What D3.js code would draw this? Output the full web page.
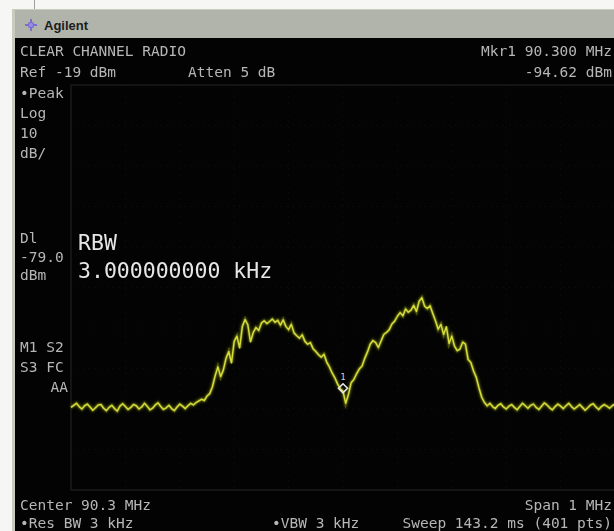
<!DOCTYPE html>
<html>
<head>
<meta charset="utf-8">
<script src="https://cdn.jsdelivr.net/npm/d3@7"></script>
<style>
  html, body { margin: 0; padding: 0; background: #ffffff; }
  svg { display: block; }
</style>
</head>
<body>
<svg id="screen" width="614" height="531"></svg>
<script>
// Sweep settings of the analyzer
const centerMHz = 90.3;
const spanMHz = 1.0;
const refLevel = -19;      // dBm, top of graticule
const dbPerDiv = 10;
const divisions = 10;
const displayLine = -79.0; // dBm
const markerFreq = 90.300; // MHz
const markerLevel = -94.62; // dBm

// Trace amplitudes (dBm), sampled every 5 kHz from 89.800 to 90.800 MHz
const traceLevels = [
  -98.6, -98.1, -97.6, -98.4, -99.0, -98.2, -97.8, -98.5, -99.3, -98.7,
  -98.0, -97.9, -98.8, -99.4, -98.6, -98.1, -98.9, -99.5, -98.3, -97.7,
  -98.4, -99.1, -98.6, -97.9, -98.2, -99.0, -98.5, -97.6, -98.3, -99.2,
  -98.8, -98.0, -97.5, -98.4, -99.1, -98.7, -98.1, -98.9, -99.4, -98.5,
  -97.8, -98.3, -98.9, -98.2, -97.6, -98.0, -97.4, -97.0, -96.6, -96.9,
  -95.8, -95.2, -93.5, -90.8, -88.6, -91.0, -89.4, -86.5, -84.8, -87.6,
  -82.3, -81.0, -83.9, -78.6, -76.9, -78.2, -82.4, -80.1, -78.9, -79.6,
  -77.8, -77.2, -77.9, -77.4, -76.8, -77.6, -77.1, -78.3, -77.0, -78.6,
  -79.4, -78.1, -80.2, -80.9, -81.5, -80.7, -82.3, -83.0, -82.6, -84.1,
  -84.8, -85.6, -86.2, -85.5, -87.4, -88.6, -90.1, -91.3, -92.8, -94.0,
  -94.62, -97.6, -95.4, -92.5, -91.7, -90.3, -89.1, -88.4, -86.5, -84.9,
  -83.0, -82.1, -82.6, -83.8, -82.2, -80.6, -80.1, -79.4, -78.0, -77.3,
  -76.1, -75.2, -76.0, -74.3, -75.1, -74.6, -73.4, -74.9, -72.4, -71.5,
  -73.6, -74.2, -73.5, -75.4, -77.2, -79.3, -78.1, -80.6, -78.7, -82.8,
  -81.0, -83.5, -84.6, -84.2, -82.5, -83.0, -86.8, -87.5, -89.6, -91.2,
  -93.8, -96.1, -97.4, -98.2, -97.6, -98.4, -98.9, -98.1, -97.7, -98.5,
  -99.0, -98.3, -97.9, -98.6, -99.2, -98.4, -97.6, -98.2, -98.8, -98.1,
  -97.8, -98.6, -99.1, -98.3, -97.5, -98.0, -98.7, -99.2, -98.4, -97.8,
  -98.3, -98.9, -98.2, -97.6, -98.4, -99.0, -98.5, -97.9, -98.6, -99.3,
  -98.7, -98.0, -97.7, -98.5, -99.1, -98.4, -97.9, -98.3, -98.8, -98.2,
  -97.8
];

// Annotation text shown on the instrument screen
const topLeftLines = ["CLEAR CHANNEL RADIO", "Ref -19 dBm"];
const attenText = "Atten 5 dB";
const markerLines = ["Mkr1  90.300 MHz", "-94.62 dBm"];
const scaleLines = ["\u2022Peak", "Log", "10", "dB/"];
const displayLineLabels = ["Dl", "-79.0", "dBm"];
const statusLines = ["M1 S2", "S3 FC"];
const couplingText = "AA";
const rbwLines = ["RBW", "3.000000000 kHz"];
const footerLeft = ["Center 90.3 MHz", "\u2022Res BW 3 kHz"];
const footerRight = ["Span 1 MHz", "Sweep 143.2 ms (401 pts)"];
const vbwText = "\u2022VBW 3 kHz";

const svg = d3.select("#screen");
const W = 614, H = 531;
const plot = { left: 71, right: 615, top: 85, bottom: 490 };

const startMHz = centerMHz - spanMHz / 2;
const stepMHz = spanMHz / (traceLevels.length - 1);
const trace = traceLevels.map((v, i) => ({ f: startMHz + i * stepMHz, v }));

const x = d3.scaleLinear().domain([startMHz, startMHz + spanMHz]).range([plot.left, plot.right]);
const y = d3.scaleLinear().domain([refLevel - dbPerDiv * divisions, refLevel]).range([plot.bottom, plot.top]);

// Filters: soft phosphor glow for the trace and slight softness for text
const defs = svg.append("defs");
const glow = defs.append("filter").attr("id", "glow").attr("x", "-5%").attr("y", "-5%").attr("width", "110%").attr("height", "110%");
glow.append("feGaussianBlur").attr("in", "SourceGraphic").attr("stdDeviation", 1.6).attr("result", "b");
const gm = glow.append("feMerge");
gm.append("feMergeNode").attr("in", "b");
gm.append("feMergeNode").attr("in", "SourceGraphic");
defs.append("filter").attr("id", "soft").append("feGaussianBlur").attr("stdDeviation", 0.45);

// Page margins and instrument bezel
svg.append("rect").attr("x", 0).attr("y", 0).attr("width", W).attr("height", H).attr("fill", "#f6f6f4");
svg.append("line").attr("x1", 34.5).attr("x2", 34.5).attr("y1", 0).attr("y2", 10).attr("stroke", "#a0a0a0");
svg.append("rect").attr("x", 12).attr("y", 9).attr("width", W - 12).attr("height", H - 9).attr("fill", "#c9cbbf");
svg.append("rect").attr("x", 15).attr("y", 10).attr("width", W - 15).attr("height", 28).attr("fill", "#b1b4ab");
svg.append("rect").attr("x", 15).attr("y", 38).attr("width", W - 15).attr("height", H - 38).attr("fill", "#030303");

// Header logo
const logo = svg.append("g").attr("transform", "translate(31,25)").attr("filter", "url(#soft)");
d3.range(8).forEach(k => {
  const a = k * Math.PI / 4;
  logo.append("line").attr("x1", 0).attr("y1", 0)
    .attr("x2", Math.cos(a) * (k % 2 ? 3.5 : 6)).attr("y2", Math.sin(a) * (k % 2 ? 3.5 : 6))
    .attr("stroke", "#6b5fd0").attr("stroke-width", 1.6);
});
logo.append("circle").attr("r", 2).attr("fill", "#9a8cf0");
svg.append("text").attr("x", 44).attr("y", 30).text("Agilent")
  .attr("font-family", "Liberation Sans, Arial, sans-serif").attr("font-weight", "bold")
  .attr("font-size", 13).attr("fill", "#1c1c1c");

// Graticule (very faint on this screen)
const grid = svg.append("g");
d3.range(1, divisions).forEach(k => {
  const gx = plot.left + (plot.right - plot.left) * k / divisions;
  const gy = plot.top + (plot.bottom - plot.top) * k / divisions;
  grid.append("line").attr("x1", gx).attr("x2", gx).attr("y1", plot.top).attr("y2", plot.bottom)
    .attr("stroke", "#101010").attr("stroke-dasharray", "1,5");
  grid.append("line").attr("x1", plot.left).attr("x2", plot.right).attr("y1", gy).attr("y2", gy)
    .attr("stroke", "#101010").attr("stroke-dasharray", "1,5");
});
grid.append("rect").attr("x", plot.left).attr("y", plot.top)
  .attr("width", plot.right - plot.left).attr("height", plot.bottom - plot.top)
  .attr("fill", "none").attr("stroke", "#202020").attr("stroke-width", 1.2);

// Display line
svg.append("line").attr("x1", plot.left).attr("x2", plot.right)
  .attr("y1", y(displayLine)).attr("y2", y(displayLine))
  .attr("stroke", "#3d8f3a").attr("stroke-width", 2).attr("filter", "url(#soft)");

// Trace
const line = d3.line().x(d => x(d.f)).y(d => y(d.v));
svg.append("path").datum(trace).attr("d", line)
  .attr("fill", "none").attr("stroke", "#8f9a12").attr("stroke-width", 3).attr("opacity", 0.55)
  .attr("filter", "url(#glow)");
svg.append("path").datum(trace).attr("d", line)
  .attr("fill", "none").attr("stroke", "#d6dc3c").attr("stroke-width", 1.5)
  .attr("stroke-linejoin", "round");

// Marker 1
const mx = x(markerFreq), my = y(markerLevel) - 3;
svg.append("path")
  .attr("d", `M${mx},${my - 4.5} L${mx + 4.5},${my} L${mx},${my + 4.5} L${mx - 4.5},${my} Z`)
  .attr("fill", "none").attr("stroke", "#e6e6e6").attr("stroke-width", 1.6);
svg.append("text").attr("x", mx).attr("y", my - 8).attr("text-anchor", "middle")
  .attr("font-family", "DejaVu Sans Mono, monospace").attr("font-size", 9)
  .attr("fill", "#cfcfcf").text("1");

// Screen annotations
const textLayer = svg.append("g").attr("filter", "url(#soft)")
  .attr("font-family", "DejaVu Sans Mono, monospace").attr("fill", "#b6b6b6");

function label(str, tx, ty, anchor = "start", size = 14.5, fill = null) {
  const t = textLayer.append("text").attr("x", tx).attr("y", ty)
    .attr("text-anchor", anchor).attr("font-size", size).text(str);
  if (fill) t.attr("fill", fill);
  return t;
}

topLeftLines.forEach((s, i) => label(s, 20, 56 + i * 21));
label(attenText, 188, 77);
markerLines.forEach((s, i) => label(s, 612, 56 + i * 21, "end"));
scaleLines.forEach((s, i) => label(s, 20, 98 + i * 20));
displayLineLabels.forEach((s, i) => label(s, 20, 243 + i * 18.5));
statusLines.forEach((s, i) => label(s, 20, 352 + i * 20));
label(couplingText, 68, 392, "end");
label(rbwLines[0], 78, 250, "start", 21.5, "#e6e6e6");
label(rbwLines[1], 78, 278, "start", 21.5, "#e6e6e6");
footerLeft.forEach((s, i) => label(s, 20, 510 + i * 18));
footerRight.forEach((s, i) => label(s, 612, 510 + i * 18, "end"));
label(vbwText, 272, 528);
</script>
</body>
</html>
